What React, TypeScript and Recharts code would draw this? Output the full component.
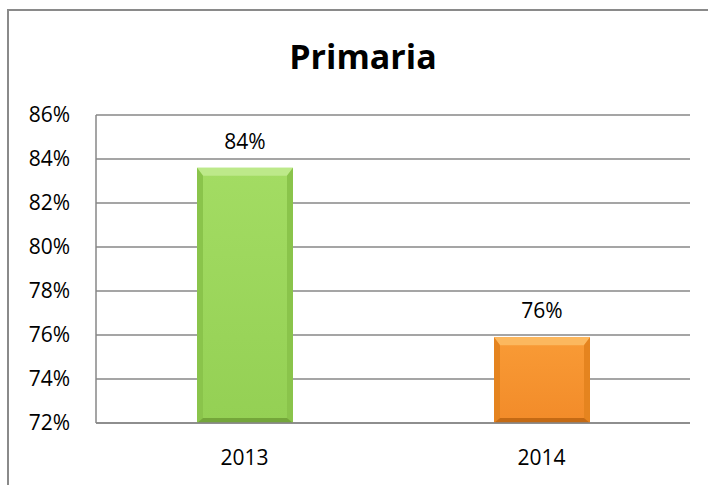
import React from 'react';
import { BarChart, Bar, XAxis, YAxis, CartesianGrid, LabelList, Cell } from 'recharts';

const categories = ['2013', '2014'];
const values = [83.6, 75.9];
const yTicks = [72, 74, 76, 78, 80, 82, 84, 86];
const chartTitle = 'Primaria';

const barPalettes = [
  { faceTop: '#A3DC63', faceBottom: '#94D054', top: '#BDE98A', side: '#8AC44B', bottom: '#74A63A' },
  { faceTop: '#F99B36', faceBottom: '#F28B29', top: '#FCB85E', side: '#E5841F', bottom: '#C46A14' },
];

const data = categories.map((c, i) => ({ year: c, value: values[i] }));

const FONT = "'Open Sans', 'Noto Sans', sans-serif";

const BevelBar = (props: any) => {
  const { x, y, width, height, index } = props;
  if (width == null || height == null || height <= 0) return null;
  const p = barPalettes[index % barPalettes.length];
  const bt = 8;
  const bs = 6;
  const bb = 5;
  const id = `face-grad-${index}`;
  const x2 = x + width;
  const y2 = y + height;
  return (
    <g>
      <defs>
        <linearGradient id={id} x1="0" y1="0" x2="0" y2="1">
          <stop offset="0%" stopColor={p.faceTop} />
          <stop offset="100%" stopColor={p.faceBottom} />
        </linearGradient>
      </defs>
      <rect x={x} y={y} width={width} height={height} fill={`url(#${id})`} />
      <polygon points={`${x},${y} ${x2},${y} ${x2 - bs},${y + bt} ${x + bs},${y + bt}`} fill={p.top} />
      <polygon points={`${x},${y} ${x + bs},${y + bt} ${x + bs},${y2 - bb} ${x},${y2}`} fill={p.side} />
      <polygon points={`${x2},${y} ${x2 - bs},${y + bt} ${x2 - bs},${y2 - bb} ${x2},${y2}`} fill={p.side} />
      <polygon points={`${x},${y2} ${x + bs},${y2 - bb} ${x2 - bs},${y2 - bb} ${x2},${y2}`} fill={p.bottom} />
    </g>
  );
};

export default function App() {
  return (
    <div style={{ position: 'absolute', left: 0, top: 0, width: 708, height: 485, overflow: 'hidden', background: '#fff' }}>
      <div
        style={{
          position: 'absolute',
          left: 7,
          top: 9,
          width: 760,
          height: 560,
          borderLeft: '2px solid #8a8a8a',
          borderTop: '2px solid #8a8a8a',
        }}
      />
      <svg width={708} height={485} style={{ position: 'absolute', left: 0, top: 0 }}>
        <text x={363} y={69} textAnchor="middle" fontFamily={FONT} fontWeight={700} fontSize={34} fill="#000">
          {chartTitle}
        </text>
      </svg>
      <div style={{ position: 'absolute', left: 0, top: 0 }}>
        <BarChart width={708} height={485} data={data} margin={{ top: 115, right: 18, bottom: 32, left: 0 }}>
          <CartesianGrid vertical={false} stroke="#878787" strokeWidth={1.5} />
          <XAxis
            dataKey="year"
            height={30}
            tickLine={false}
            tickSize={0}
            tickMargin={27}
            axisLine={{ stroke: '#878787', strokeWidth: 1.5 }}
            tick={{ fontFamily: FONT, fontSize: 21, fill: '#000' }}
          />
          <YAxis
            width={96}
            domain={[72, 86]}
            ticks={yTicks}
            allowDataOverflow
            tickLine={false}
            tickSize={0}
            tickMargin={26}
            tickFormatter={(v: number) => `${v}%`}
            axisLine={{ stroke: '#878787', strokeWidth: 1.5 }}
            tick={{ fontFamily: FONT, fontSize: 21, fill: '#000' }}
          />
          <Bar dataKey="value" barSize={96} isAnimationActive={false} shape={<BevelBar />}>
            {data.map((d, i) => (
              <Cell key={d.year} fill={barPalettes[i].faceTop} />
            ))}
            <LabelList
              dataKey="value"
              position="top"
              offset={19}
              formatter={(v: number) => `${Math.round(v)}%`}
              style={{ fontFamily: FONT, fontSize: 21, fill: '#000' }}
            />
          </Bar>
        </BarChart>
      </div>
    </div>
  );
}
